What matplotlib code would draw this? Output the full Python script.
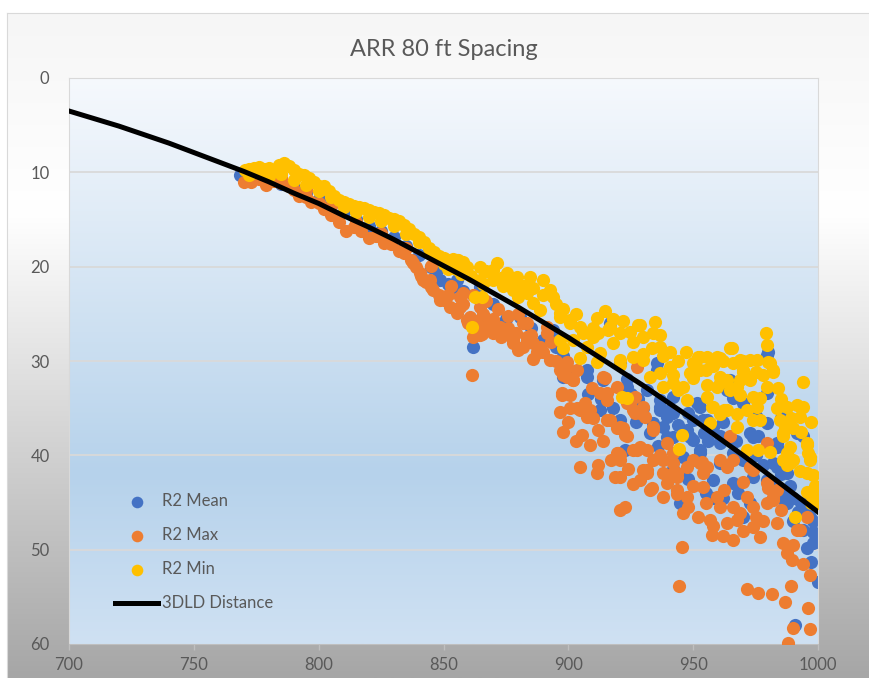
import matplotlib.pyplot as plt
import numpy as np
from matplotlib.colors import to_rgb

# 3DLD distance curve, sampled every 10 ft
dist_x = [700, 710, 720, 730, 740, 750, 760, 770, 780, 790, 800, 810, 820, 830, 840, 850,
          860, 870, 880, 890, 900, 910, 920, 930, 940, 950, 960, 970, 980, 990, 1000]
dist_y = [3.5, 4.3, 5.1, 6.0, 6.9, 7.9, 8.9, 9.9, 11.0, 12.2, 13.3, 14.6, 15.8, 17.1, 18.5, 19.9,
          21.3, 22.8, 24.3, 25.9, 27.5, 29.2, 30.9, 32.6, 34.4, 36.2, 38.1, 40.0, 42.0, 44.0, 46.0]

# R2 mean (x, y)
r2_mean = [
    (768.5, 10.3), (770, 10.4), (775, 10.6), (780, 10.8), (785, 11.2), (790, 11.6), (795, 12.2),
    (800, 12.8), (805, 13.5), (810, 14.2), (815, 14.9), (820, 15.7), (825, 16.2), (830, 16.9),
    (835, 17.8), (840, 18.8), (845, 20.0), (847.4, 20.4), (848.6, 21.4), (852, 21.8), (853.8, 22.2),
    (855.4, 21.4), (858, 22.6), (861.8, 28.5), (864.6, 22.2), (870, 24.0), (875, 25.5), (880.6, 25.3),
    (885, 26.5), (890, 27.8), (893.8, 26.7), (895, 28.5), (898, 29.5),
    (897.8, 31.7), (907.5, 31.7), (912.7, 35.2), (920.7, 36.3), (923.5, 31.9), (932.7, 37.6),
    (922.7, 39.4), (901.8, 31.3), (907.5, 31.0), (913.9, 32.0), (920.7, 30.2), (923.5, 32.8),
    (931.5, 33.1), (936.7, 34.9), (939.5, 35.9), (941.9, 33.8), (949.9, 36.3), (947.5, 37.3),
    (954.3, 37.6), (960.7, 38.0), (952.7, 39.8), (964.7, 32.0), (952.7, 34.9), (963.5, 33.1),
    (979.9, 29.0), (994.0, 38.0), (983.5, 39.1), (972.7, 37.6), (979.5, 36.6), (935.5, 30.2),
    (916.7, 26.0), (964.7, 32.2), (965.9, 33.9), (951.5, 34.5), (953.9, 36.3), (960.7, 38.7),
    (948.7, 38.1), (940.7, 35.2), (936.7, 34.1), (933.9, 36.6), (941.9, 38.1), (952.7, 39.4),
    (973.9, 38.1), (983.5, 41.2), (979.5, 42.6), (987.6, 43.7), (965.9, 39.8), (960.7, 40.8),
    (973.9, 42.3), (979.5, 33.4), (979.5, 29.4), (935.5, 31.0), (939.5, 38.1), (945.9, 40.2),
    (957.9, 42.6), (944.7, 45.1), (949.9, 38.4), (955.5, 36.3), (965.9, 42.9), (972.7, 45.1),
    (981.9, 40.8), (983.5, 38.7), (987.6, 41.9), (988.8, 43.3), (987.6, 45.1), (994.0, 47.9),
    (998.0, 49.3), (991.6, 37.6), (941.9, 35.5), (936.7, 35.2), (990.8, 58.0), (1000.0, 53.4),
    (997.2, 51.3), (995.6, 49.8), (998.8, 49.2), (998.0, 48.1), (996.8, 46.5), (928, 34.0),
    (945, 42.0), (958, 44.5), (968, 44.0), (975, 40.0), (990, 47.0), (993, 45.0), (985, 44.5),
    (925, 33.5), (930, 35.0), (938, 37.0), (944, 36.8), (948, 35.5), (956, 38.5), (958, 37.0),
    (962, 36.5), (967, 38.5), (970, 40.5), (976, 38.0), (978, 41.0), (982, 43.0), (985, 42.0),
    (990, 44.5), (992, 46.0), (995, 46.0), (998, 47.0), (996, 44.8), (985, 36.0), (970, 34.5),
    (975, 35.8), (908, 33.5), (913, 34.0), (918, 35.0), (927, 36.5), (936, 39.0), (942, 41.5),
    (948, 42.5), (955, 44.0), (962, 44.5), (970, 46.5),
]

# R2 max (x, y)
r2_max = [
    (770, 11.0), (773, 11.0), (776, 10.7), (779, 11.3), (782, 10.9), (785, 11.1), (788, 11.4),
    (790, 11.9), (792, 12.5), (795, 12.6), (797, 13.1), (800, 13.3), (802, 13.9), (805, 14.5),
    (808, 15.3), (811, 16.2), (814, 15.8), (817, 16.2), (820, 17.0), (823, 16.8), (826, 17.5),
    (829, 17.6), (832, 18.3), (834, 18.6), (837, 19.3), (839, 20.0), (841, 21.0), (843, 21.6),
    (845, 22.2), (848, 23.0), (850, 23.5),
    (775, 10.3), (785, 10.6), (795, 11.9), (805, 13.6), (815, 15.3), (825, 16.4), (835, 18.0),
    (845, 19.9),
    (837.8, 19.6), (840.6, 20.7), (844.6, 21.4), (848.6, 23.5), (852.6, 24.3), (856.6, 23.2),
    (860.6, 25.3), (864.6, 24.3), (868.6, 25.7), (872.6, 26.4), (877.8, 27.8), (883.4, 27.5),
    (888.6, 28.5), (892.6, 29.9), (896.6, 31.0), (887.4, 29.2), (869.8, 27.0), (875.4, 27.0),
    (866.2, 26.4), (855.4, 24.9), (845.8, 22.5), (841.8, 21.4), (883.4, 26.0), (891.4, 26.4),
    (899.4, 30.6), (901.8, 32.0), (859.4, 25.7), (856.6, 24.3), (864.6, 27.2), (869.8, 26.0),
    (877.8, 28.1), (887.4, 29.0), (861.4, 31.5), (861.8, 27.5), (865.4, 27.1), (881.8, 26.0),
    (885.8, 28.1), (891.4, 27.0), (883.4, 27.8), (888.6, 28.8), (853, 22.0), (858, 22.8),
    (862, 23.0), (867, 23.6), (872, 24.5), (876, 25.2), (880, 25.0),
    (852, 23.0), (855, 24.5), (858, 24.0), (860, 26.0), (863, 25.8), (866, 25.0), (870, 25.5),
    (873, 27.5), (876, 26.5), (879, 27.0), (882, 28.5), (885, 27.2), (890, 29.0), (893, 28.0),
    (895, 30.0), (898, 31.5), (886, 29.8), (880, 28.8),
    (897.4, 33.6), (900.6, 33.6), (896.6, 35.4), (904.7, 35.2), (906.7, 34.5), (897.8, 37.5),
    (905.5, 37.8), (908.7, 38.9), (911.9, 37.3), (915.5, 36.3), (919.5, 37.1), (922.7, 37.8),
    (919.5, 39.8), (927.5, 39.4), (904.7, 41.2), (911.9, 41.0), (911.5, 41.9), (918.7, 42.3),
    (920.7, 42.3), (929.9, 41.6), (928.7, 42.6), (899.4, 31.7), (901.8, 32.0), (909.5, 32.9),
    (913.9, 31.7), (915.5, 33.4), (923.5, 34.5), (925.9, 35.2), (930.7, 35.9), (920.7, 45.8),
    (922.7, 45.5), (933.5, 43.5), (937.9, 44.4), (945.9, 46.1), (956.7, 46.9), (957.5, 48.4),
    (965.9, 49.0), (967.5, 46.9), (973.9, 47.6), (976.7, 48.7), (983.5, 47.2), (986.0, 49.3),
    (987.6, 50.4), (989.6, 51.1), (996.8, 52.7), (971.5, 54.2), (975.9, 54.6), (981.5, 54.7),
    (989.2, 53.9), (986.8, 55.5), (996.0, 56.2), (990.0, 58.3), (996.8, 58.4), (988.0, 59.9),
    (945.5, 49.7), (944.3, 53.9), (953.5, 40.7), (960.7, 40.5), (965.9, 40.5), (963.5, 41.2),
    (973.9, 41.6), (969.9, 42.8), (979.5, 42.9), (959.5, 44.4), (960.7, 45.5), (965.9, 45.5),
    (963.5, 47.2), (968.7, 46.1), (973.9, 45.5), (979.5, 45.1), (981.9, 44.4), (971.5, 44.4),
    (947.5, 44.4), (949.9, 43.3), (943.5, 43.7), (939.5, 42.9), (937.9, 41.9), (943.5, 42.3),
    (953.9, 41.9), (947.5, 41.2), (941.9, 40.8), (931.5, 41.9), (937.9, 40.5), (933.9, 40.5),
    (903.5, 35.0), (908.7, 35.2), (916.7, 36.3), (921.9, 37.1), (926.7, 35.5), (919.9, 39.8),
    (920.7, 40.5), (933.9, 37.3), (928.7, 39.1), (903.5, 31.0), (912.7, 33.4), (914.7, 31.8),
    (915.5, 34.1), (919.5, 32.8), (927.5, 30.6), (924.7, 34.5), (928.7, 35.5), (920.7, 37.0),
    (923.5, 38.0), (920.7, 40.0), (925.9, 39.4), (936.7, 40.0), (939.5, 38.7), (943.5, 41.9),
    (952.7, 40.8), (964.7, 38.0), (979.5, 38.7), (926.7, 33.8), (929.9, 34.9), (933.9, 37.0),
    (931.5, 39.4), (936.7, 40.2), (941.9, 39.8), (931.5, 41.6), (941.9, 41.9), (949.9, 40.5),
    (955.5, 41.2), (972.7, 41.2), (932.7, 43.7), (943.5, 44.1), (953.9, 43.4), (962.3, 43.7),
    (897.4, 33.4), (900.6, 35.0), (905.9, 35.0), (907.5, 35.9), (899.4, 30.1), (991.6, 47.9),
    (995.6, 46.5), (992.8, 47.9), (983.5, 43.7), (981.9, 44.7),
    (900, 36.5), (903, 38.5), (910, 36.0), (914, 38.5), (917, 40.5), (924, 41.5), (926, 43.0),
    (948, 45.5), (952, 46.5), (955, 45.0), (958, 47.5), (962, 48.5), (970, 48.0), (975, 46.5),
    (978, 47.0), (985, 45.8), (990, 49.5), (994, 51.5), (980, 43.5),
]

# R2 min (x, y)
r2_min = [
    (770.5, 9.8), (772, 9.6), (774, 9.5), (776, 9.4), (778, 9.6), (780, 9.5), (782, 9.8),
    (784, 9.2), (786, 9.0), (788, 9.3), (790, 9.8), (792, 10.2), (794, 10.3), (796, 10.6),
    (798, 11.0), (800, 11.4), (802, 11.5), (804, 12.0), (806, 12.5), (808, 12.9), (810, 13.1),
    (812, 13.4), (814, 13.6), (816, 13.7), (818, 13.8), (820, 14.0), (822, 14.2), (824, 14.3),
    (826, 14.5), (828, 14.8), (830, 14.9), (832, 15.2), (834, 15.6), (836, 16.0), (838, 16.5),
    (840, 16.9), (842, 17.4), (844, 18.0), (846, 18.4), (848, 18.9), (850, 19.1), (852, 19.3),
    (854, 19.2), (856, 19.3), (858, 19.5),
    (772, 10.3), (776, 10.1), (780, 10.4), (785, 10.2), (790, 10.8), (795, 11.3), (800, 12.0),
    (805, 12.6), (810, 13.7), (815, 14.2), (820, 14.7), (825, 15.2), (830, 15.7), (835, 16.5),
    (840, 17.4), (845, 18.6), (850, 19.7), (855, 20.3),
    (855.4, 19.3), (859.4, 20.0), (864.6, 20.0), (871.4, 19.6), (875.4, 20.7), (879.4, 21.1),
    (884.6, 21.1), (889.8, 21.4), (892.6, 22.5), (893.8, 23.2), (883.4, 22.8), (877.8, 22.5),
    (869.8, 21.4), (864.6, 21.4), (896.6, 24.9), (900.6, 25.7), (904.7, 26.4), (909.9, 27.5),
    (888.6, 24.6), (885.8, 23.9), (861.4, 26.4), (862.6, 23.2), (865.4, 23.2), (867, 20.5),
    (874, 22.0), (880, 23.2), (896.6, 25.3), (901.8, 27.8), (896.6, 27.8), (897.8, 28.6),
    (900.6, 26.0),
    (852, 20.2), (857, 20.8), (861, 21.0), (866, 21.8), (870, 20.4), (873, 21.2), (877, 21.8),
    (882, 22.0), (886, 22.3), (890, 23.0), (895, 24.0), (898, 24.5), (903, 25.0), (906, 27.0),
    (912, 27.0), (918, 25.5), (922, 25.8), (926, 28.0), (930, 27.5), (934, 27.0), (938, 29.5),
    (944, 30.0), (947, 29.0), (942, 31.5), (950, 31.8), (955, 31.0), (958, 30.5), (962, 30.0),
    (966, 30.2), (970, 30.0), (975, 31.2), (985, 34.0), (989, 36.0), (993, 37.5), (997, 36.5),
    (999, 44.0), (997, 45.0),
    (914.7, 24.7), (934.7, 25.9), (927.9, 26.2), (911.5, 25.4), (920.7, 27.0), (936.7, 27.2),
    (940.7, 29.0), (951.9, 29.6), (955.5, 29.6), (960.7, 29.7), (965.5, 28.6), (968.7, 29.9),
    (972.7, 29.9), (975.5, 29.9), (979.1, 27.0), (979.5, 28.3), (979.9, 30.1), (981.9, 31.0),
    (977.9, 31.5), (969.9, 31.0), (972.7, 32.0), (994.0, 32.2), (984.0, 32.9), (979.5, 32.8),
    (976.7, 33.9), (983.5, 35.0), (987.6, 34.9), (991.6, 34.7), (994.0, 34.9), (992.8, 35.9),
    (986.8, 37.0), (990.0, 37.1), (995.6, 38.9), (996.0, 39.8), (996.8, 40.5), (986.0, 40.5),
    (988.8, 40.8), (971.5, 39.4), (975.9, 39.4), (980.7, 39.6), (945.5, 37.8), (944.3, 39.3),
    (967.5, 37.0), (973.9, 36.3), (971.5, 35.2), (967.5, 35.6), (963.5, 35.2), (960.7, 35.6),
    (956.7, 36.6), (957.5, 34.9), (955.5, 33.8), (959.5, 32.8), (964.7, 33.1), (968.7, 33.6),
    (973.9, 33.8), (968.7, 32.0), (963.5, 32.0), (960.7, 31.7), (952.7, 31.0), (948.7, 31.3),
    (949.9, 30.2), (943.9, 33.1), (941.9, 32.3), (937.9, 32.8), (936.7, 31.3), (932.7, 31.7),
    (929.9, 29.9), (925.9, 29.6), (920.7, 29.9), (917.9, 28.1), (912.7, 29.2), (907.5, 28.5),
    (904.7, 29.7), (909.9, 26.5), (915.9, 26.7), (921.5, 33.8), (923.5, 33.9), (936.7, 28.5),
    (933.5, 28.6), (916.7, 26.4), (924.7, 26.9), (928.7, 26.2), (911.5, 30.1), (920.7, 30.4),
    (947.5, 34.1), (957.9, 34.9), (962.3, 35.2), (975.5, 34.9), (976.7, 36.3), (984.7, 36.3),
    (986.0, 37.6), (988.8, 39.1), (995.6, 38.7), (996.8, 40.2), (995.6, 41.9), (998.0, 42.1),
    (998.8, 43.3), (995.6, 43.9), (1000.0, 45.1), (990.8, 46.5), (987.6, 41.0), (990.0, 40.5),
    (992.8, 41.7), (987.6, 39.8), (986.0, 38.0), (945.9, 32.8), (940.7, 30.6), (929.9, 29.3),
    (955.5, 32.5), (960.7, 32.3), (967.5, 32.8), (980.7, 30.2), (981.9, 31.2), (969.9, 31.2),
    (964.7, 28.6), (959.5, 29.6), (952.7, 29.6),
]

x_ticks = [700, 750, 800, 850, 900, 950, 1000]
y_ticks = [0, 10, 20, 30, 40, 50, 60]

plt.rcParams['font.family'] = ['Lato', 'DejaVu Sans']
TEXT = '#595959'
DOT = 90


def vgradient(stops, n=256):
    # stops: list of (position 0..1 from top, color)
    pos = [p for p, _ in stops]
    cols = np.array([to_rgb(c) for _, c in stops])
    t = np.linspace(0, 1, n)
    rgb = np.stack([np.interp(t, pos, cols[:, i]) for i in range(3)], axis=-1)
    return rgb[:, None, :]


def main():
    W, H = 870, 678
    fig = plt.figure(figsize=(W / 100, H / 100), dpi=100)
    fig.patch.set_facecolor('white')

    # chart area background
    bg = fig.add_axes([7 / W, 0, 1 - 7 / W, 1 - 13 / H], zorder=-10)
    bg.imshow(vgradient([(0, '#f6f6f6'), (0.3, '#ffffff'), (1, '#a6a6a6')]),
              aspect='auto', extent=[0, 1, 0, 1])
    bg.set_xticks([])
    bg.set_yticks([])
    for side, sp in bg.spines.items():
        sp.set_visible(side in ('left', 'top'))
        sp.set_color('#d9d9d9')

    ax = fig.add_axes([69 / W, 1 - 644 / H, (818 - 69) / W, (644 - 78) / H])
    ax.imshow(vgradient([(0, '#f6f9fd'), (0.7, '#b6d2eb'), (1, '#cfe1f3')]),
              aspect='auto', extent=[0, 1, 0, 1], transform=ax.transAxes, zorder=0)

    for v in y_ticks[1:-1]:
        ax.axhline(v, color='#d9d9d9', lw=1.3, zorder=1)

    mx, my = np.array(r2_mean).T
    ax.scatter(mx, my, s=DOT, color='#4472c4', linewidths=0, zorder=2, label='R2 Mean')
    hx, hy = np.array(r2_max).T
    ax.scatter(hx, hy, s=DOT, color='#ed7d31', linewidths=0, zorder=3, label='R2 Max')
    lx, ly = np.array(r2_min).T
    ax.scatter(lx, ly, s=DOT, color='#ffc000', linewidths=0, zorder=4, label='R2 Min')
    ax.plot(dist_x, dist_y, color='black', lw=3.6, zorder=5, label='3DLD Distance')

    ax.set_xlim(700, 1000)
    ax.set_ylim(60, 0)
    ax.set_xticks(x_ticks)
    ax.set_yticks(y_ticks)
    ax.tick_params(axis='x', length=4, width=1, color='#bfbfbf', pad=5,
                   labelsize=12, labelcolor=TEXT)
    ax.tick_params(axis='y', length=0, pad=14, labelsize=12, labelcolor=TEXT)
    for sp in ax.spines.values():
        sp.set_color('#d9d9d9')
    ax.spines['bottom'].set_color('#bfbfbf')

    fig.text(443.5 / W, 1 - 49 / H, 'ARR 80 ft Spacing', ha='center', va='center',
             fontsize=17, color=TEXT)

    leg = ax.legend(loc='upper left', bbox_to_anchor=(0.0614, 0.266), frameon=False,
                    fontsize=12, labelcolor=TEXT, handlelength=2.6, handletextpad=0.25,
                    labelspacing=1.08, borderpad=0, borderaxespad=0, scatterpoints=1)
    for h in leg.legend_handles[:3]:
        h.set_sizes([70])

    fig.savefig('out.png', dpi=100)


if __name__ == '__main__':
    main()
